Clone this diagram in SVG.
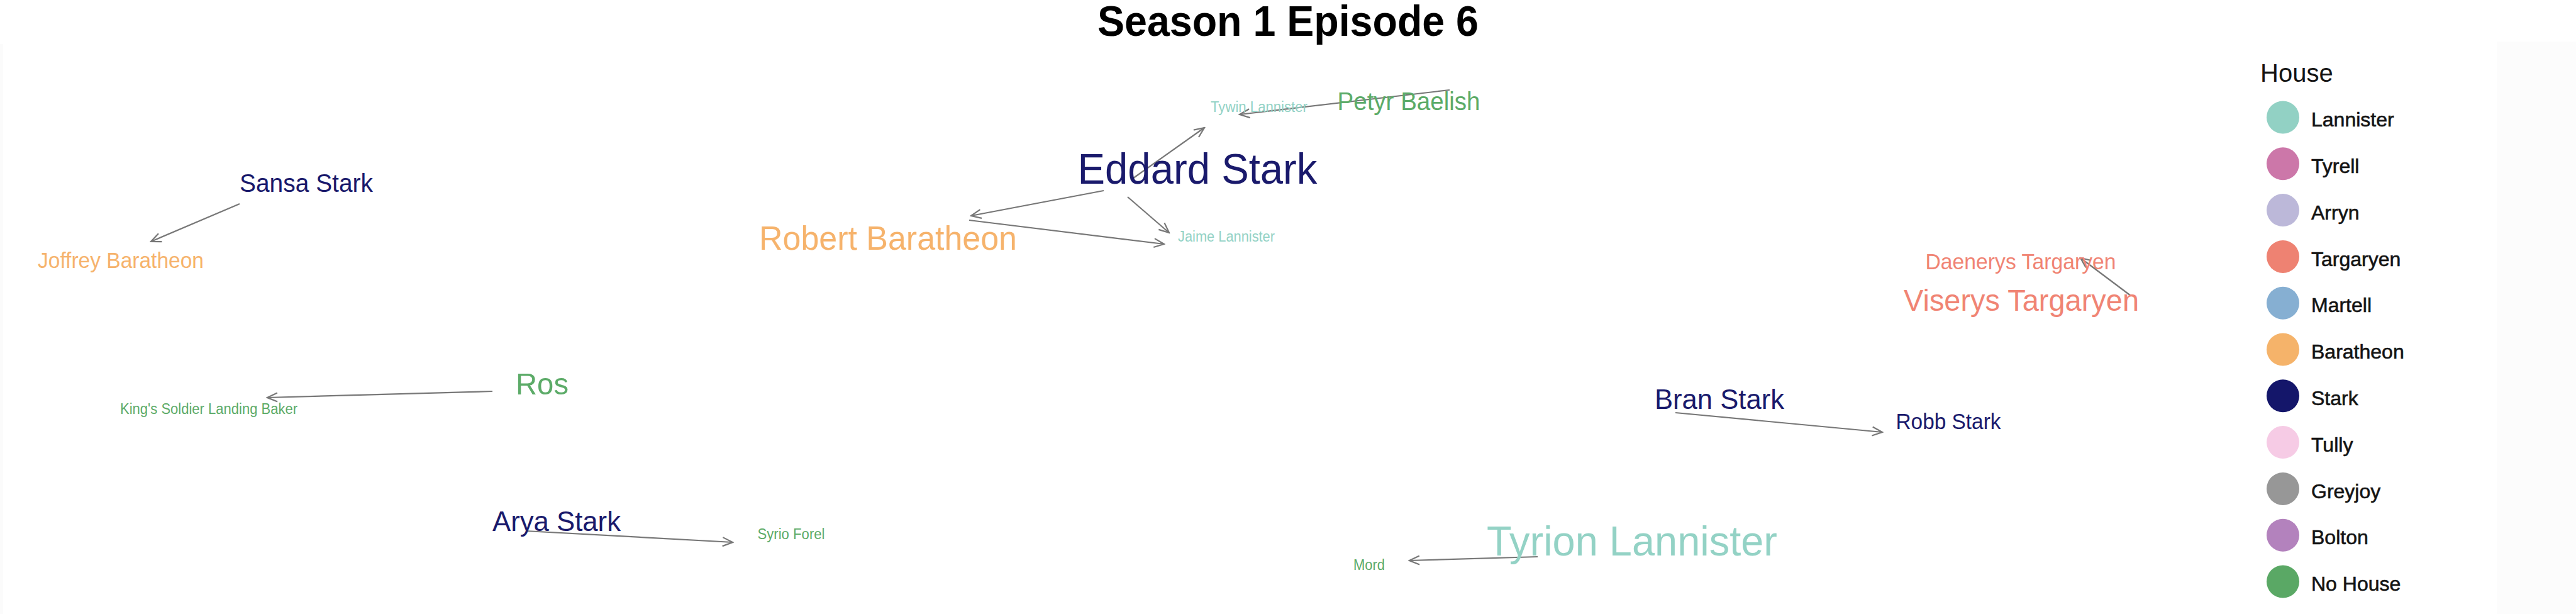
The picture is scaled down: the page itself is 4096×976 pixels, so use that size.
<svg xmlns="http://www.w3.org/2000/svg" width="4096" height="976" viewBox="0 0 4096 976">
<style>
text{font-family:"Liberation Sans",Arial,sans-serif}
.n{text-anchor:middle}
.stark{fill:#1a1a6c}
.lan{fill:#93d2c5}
.bar{fill:#f6b36c}
.tar{fill:#f08474}
.noh{fill:#5cab68}
.edge{stroke:#777;stroke-width:2.2;fill:none;marker-end:url(#arr)}
.lg{font-size:32px;fill:#141414;stroke:#141414;stroke-width:0.6}
</style>
<defs>
<marker id="arr" viewBox="0 0 20 20" refX="18" refY="10" markerWidth="20" markerHeight="20" markerUnits="userSpaceOnUse" orient="auto">
<path d="M2,3 L18,10 L2,17" fill="none" stroke="#777" stroke-width="2.2"/>
</marker>
</defs>
<rect width="4096" height="976" fill="#ffffff"/>
<rect x="0" y="70" width="5" height="906" fill="#fbfbfb"/>
<rect x="3970" y="66" width="126" height="910" fill="#fcfcfc"/>
<text x="2048" y="57" class="n" font-size="68" font-weight="bold" fill="#000" textLength="606" lengthAdjust="spacingAndGlyphs">Season 1 Episode 6</text>
<g id="connectors">
<line class="edge" x1="2305" y1="143" x2="1971" y2="182"/>
<line class="edge" x1="1798" y1="286" x2="1915" y2="203"/>
<line class="edge" x1="1755" y1="303" x2="1544" y2="343"/>
<line class="edge" x1="1793" y1="313" x2="1859" y2="370"/>
<line class="edge" x1="1541" y1="350" x2="1851" y2="388"/>
<line class="edge" x1="381" y1="324" x2="240" y2="384"/>
<line class="edge" x1="783" y1="622" x2="425" y2="632"/>
<line class="edge" x1="836" y1="844" x2="1165" y2="862"/>
<line class="edge" x1="2445" y1="885" x2="2241" y2="891"/>
<line class="edge" x1="2664" y1="656" x2="2993" y2="687"/>
<line class="edge" x1="3388" y1="470" x2="3308" y2="410"/>
</g>
<g id="eddard"><text x="1904" y="292" class="n stark" font-size="68" textLength="381" lengthAdjust="spacingAndGlyphs">Eddard Stark</text></g>
<g id="petyr"><text x="2240" y="175" class="n noh" font-size="40" textLength="227" lengthAdjust="spacingAndGlyphs">Petyr Baelish</text></g>
<g id="tywin"><text x="2002" y="178" class="n lan" font-size="23" textLength="154" lengthAdjust="spacingAndGlyphs">Tywin Lannister</text></g>
<g id="robert"><text x="1412" y="397" class="n bar" font-size="54" textLength="410" lengthAdjust="spacingAndGlyphs">Robert Baratheon</text></g>
<g id="jaime"><text x="1950" y="384" class="n lan" font-size="23" textLength="154" lengthAdjust="spacingAndGlyphs">Jaime Lannister</text></g>
<g id="sansa"><text x="487" y="305" class="n stark" font-size="40" textLength="212" lengthAdjust="spacingAndGlyphs">Sansa Stark</text></g>
<g id="joffrey"><text x="192" y="426" class="n bar" font-size="35" textLength="264" lengthAdjust="spacingAndGlyphs">Joffrey Baratheon</text></g>
<g id="ros"><text x="862" y="627" class="n noh" font-size="49" textLength="84" lengthAdjust="spacingAndGlyphs">Ros</text></g>
<g id="kings-soldier"><text x="332" y="658" class="n noh" font-size="23" textLength="282" lengthAdjust="spacingAndGlyphs">King's Soldier Landing Baker</text></g>
<g id="arya"><text x="885" y="844" class="n stark" font-size="45" textLength="204" lengthAdjust="spacingAndGlyphs">Arya Stark</text></g>
<g id="syrio"><text x="1258" y="857" class="n noh" font-size="23" textLength="107" lengthAdjust="spacingAndGlyphs">Syrio Forel</text></g>
<g id="tyrion"><text x="2595" y="883" class="n lan" font-size="67" textLength="462" lengthAdjust="spacingAndGlyphs">Tyrion Lannister</text></g>
<g id="mord"><text x="2177" y="906" class="n noh" font-size="23" textLength="50" lengthAdjust="spacingAndGlyphs">Mord</text></g>
<g id="bran"><text x="2734" y="650" class="n stark" font-size="45" textLength="206" lengthAdjust="spacingAndGlyphs">Bran Stark</text></g>
<g id="robb"><text x="3098" y="682" class="n stark" font-size="35" textLength="167" lengthAdjust="spacingAndGlyphs">Robb Stark</text></g>
<g id="daenerys"><text x="3213" y="428" class="n tar" font-size="35" textLength="303" lengthAdjust="spacingAndGlyphs">Daenerys Targaryen</text></g>
<g id="viserys"><text x="3214" y="494" class="n tar" font-size="48" textLength="374" lengthAdjust="spacingAndGlyphs">Viserys Targaryen</text></g>
<g id="legend">
<text x="3594" y="130" font-size="40" fill="#141414">House</text>
<circle cx="3630" cy="186.5" r="26" fill="#92d1c4"/><text x="3675" y="201" class="lg">Lannister</text>
<circle cx="3630" cy="260.3" r="26" fill="#cc77a9"/><text x="3675" y="275" class="lg">Tyrell</text>
<circle cx="3630" cy="334.1" r="26" fill="#bcb8d9"/><text x="3675" y="349" class="lg">Arryn</text>
<circle cx="3630" cy="407.9" r="26" fill="#ee8272"/><text x="3675" y="423" class="lg">Targaryen</text>
<circle cx="3630" cy="481.7" r="26" fill="#86afd2"/><text x="3675" y="496" class="lg">Martell</text>
<circle cx="3630" cy="555.5" r="26" fill="#f5b36a"/><text x="3675" y="570" class="lg">Baratheon</text>
<circle cx="3630" cy="629.3" r="26" fill="#14166a"/><text x="3675" y="644" class="lg">Stark</text>
<circle cx="3630" cy="703.1" r="26" fill="#f6cbe5"/><text x="3675" y="718" class="lg">Tully</text>
<circle cx="3630" cy="776.9" r="26" fill="#979797"/><text x="3675" y="792" class="lg">Greyjoy</text>
<circle cx="3630" cy="850.7" r="26" fill="#b382bd"/><text x="3675" y="865" class="lg">Bolton</text>
<circle cx="3630" cy="924.5" r="26" fill="#5aa865"/><text x="3675" y="939" class="lg">No House</text>
</g>
</svg>
